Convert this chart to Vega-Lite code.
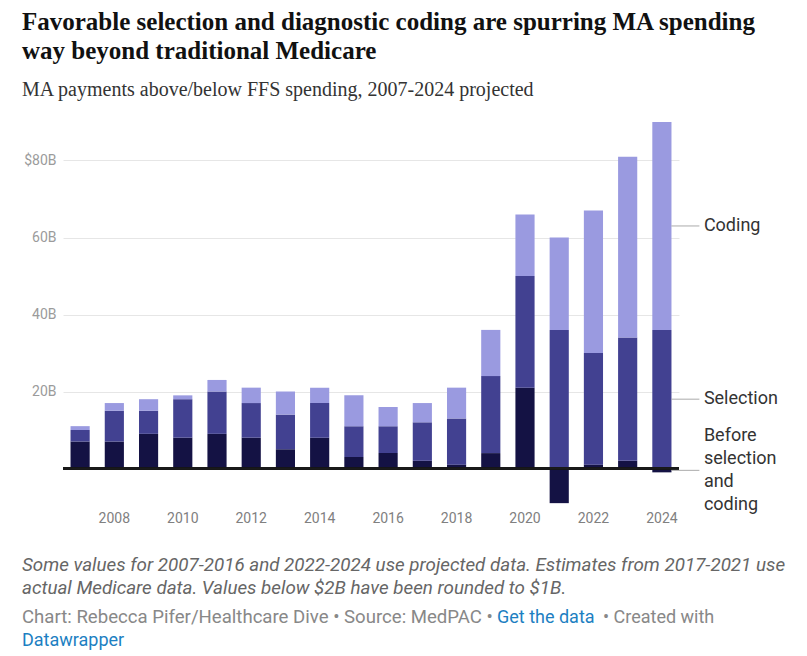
{
  "$schema": "https://vega.github.io/schema/vega-lite/v6.json",
  "width": 616,
  "height": 385,
  "autosize": {"type": "none"},
  "padding": {"left": 63, "top": 122, "right": 128, "bottom": 149},
  "background": "white",
  "title": {
    "text": ["Favorable selection and diagnostic coding are spurring MA spending", "way beyond traditional Medicare"],
    "subtitle": "MA payments above/below FFS spending, 2007-2024 projected",
    "anchor": "start",
    "frame": "group",
    "dx": -41,
    "offset": 22,
    "font": "Liberation Serif",
    "fontSize": 25,
    "fontWeight": "bold",
    "color": "#111111",
    "lineHeight": 29,
    "subtitleFont": "Liberation Serif",
    "subtitleFontSize": 20,
    "subtitleColor": "#333333",
    "subtitlePadding": 16
  },
  "config": {
    "view": {"stroke": null},
    "axis": {"labelFont": "Roboto", "domain": false, "ticks": false, "title": null}
  },
  "datasets": {
    "spending": [
      {"year": 2007, "segment": "Before", "value": 7}, {"year": 2007, "segment": "Selection", "value": 3}, {"year": 2007, "segment": "Coding", "value": 1},
      {"year": 2008, "segment": "Before", "value": 7}, {"year": 2008, "segment": "Selection", "value": 8}, {"year": 2008, "segment": "Coding", "value": 2},
      {"year": 2009, "segment": "Before", "value": 9}, {"year": 2009, "segment": "Selection", "value": 6}, {"year": 2009, "segment": "Coding", "value": 3},
      {"year": 2010, "segment": "Before", "value": 8}, {"year": 2010, "segment": "Selection", "value": 10}, {"year": 2010, "segment": "Coding", "value": 1},
      {"year": 2011, "segment": "Before", "value": 9}, {"year": 2011, "segment": "Selection", "value": 11}, {"year": 2011, "segment": "Coding", "value": 3},
      {"year": 2012, "segment": "Before", "value": 8}, {"year": 2012, "segment": "Selection", "value": 9}, {"year": 2012, "segment": "Coding", "value": 4},
      {"year": 2013, "segment": "Before", "value": 5}, {"year": 2013, "segment": "Selection", "value": 9}, {"year": 2013, "segment": "Coding", "value": 6},
      {"year": 2014, "segment": "Before", "value": 8}, {"year": 2014, "segment": "Selection", "value": 9}, {"year": 2014, "segment": "Coding", "value": 4},
      {"year": 2015, "segment": "Before", "value": 3}, {"year": 2015, "segment": "Selection", "value": 8}, {"year": 2015, "segment": "Coding", "value": 8},
      {"year": 2016, "segment": "Before", "value": 4}, {"year": 2016, "segment": "Selection", "value": 7}, {"year": 2016, "segment": "Coding", "value": 5},
      {"year": 2017, "segment": "Before", "value": 2}, {"year": 2017, "segment": "Selection", "value": 10}, {"year": 2017, "segment": "Coding", "value": 5},
      {"year": 2018, "segment": "Before", "value": 1}, {"year": 2018, "segment": "Selection", "value": 12}, {"year": 2018, "segment": "Coding", "value": 8},
      {"year": 2019, "segment": "Before", "value": 4}, {"year": 2019, "segment": "Selection", "value": 20}, {"year": 2019, "segment": "Coding", "value": 12},
      {"year": 2020, "segment": "Before", "value": 21}, {"year": 2020, "segment": "Selection", "value": 29}, {"year": 2020, "segment": "Coding", "value": 16},
      {"year": 2021, "segment": "Before", "value": -9}, {"year": 2021, "segment": "Selection", "value": 36}, {"year": 2021, "segment": "Coding", "value": 24},
      {"year": 2022, "segment": "Before", "value": 1}, {"year": 2022, "segment": "Selection", "value": 29}, {"year": 2022, "segment": "Coding", "value": 37},
      {"year": 2023, "segment": "Before", "value": 2}, {"year": 2023, "segment": "Selection", "value": 32}, {"year": 2023, "segment": "Coding", "value": 47},
      {"year": 2024, "segment": "Before", "value": -1}, {"year": 2024, "segment": "Selection", "value": 36}, {"year": 2024, "segment": "Coding", "value": 54}
    ],
    "segments": [
      {"segment": "Before", "rank": 1, "label": "Before\nselection\nand\ncoding"},
      {"segment": "Selection", "rank": 2, "label": "Selection"},
      {"segment": "Coding", "rank": 3, "label": "Coding"}
    ]
  },
  "data": {"name": "spending"},
  "transform": [
    {"lookup": "segment", "from": {"data": {"name": "segments"}, "key": "segment", "fields": ["rank", "label"]}}
  ],
  "layer": [
    {
      "mark": {"type": "bar"},
      "encoding": {
        "x": {
          "field": "year", "type": "ordinal",
          "scale": {"paddingInner": 0.44, "paddingOuter": 0.22},
          "axis": {"values": [2008, 2010, 2012, 2014, 2016, 2018, 2020, 2022, 2024], "labelAngle": 0, "labelColor": "#808080", "labelFontSize": 14, "labelPadding": 4, "grid": false}
        },
        "y": {
          "field": "value", "type": "quantitative",
          "scale": {"domain": [-10, 90], "nice": false, "zero": false},
          "axis": {"values": [20, 40, 60, 80], "labelExpr": "datum.value == 80 ? '$80B' : datum.value + 'B'", "labelColor": "#9b9b9b", "labelFontSize": 14, "labelPadding": 7, "grid": true, "gridColor": "#e6e6e6"}
        },
        "color": {
          "field": "segment", "type": "nominal",
          "scale": {"domain": ["Before", "Selection", "Coding"], "range": ["#141244", "#424191", "#9a9ae0"]},
          "legend": null
        },
        "order": {"field": "rank", "type": "quantitative"}
      }
    },
    {
      "mark": {"type": "rule", "color": "#1a1a1a", "strokeWidth": 1.3},
      "encoding": {"y": {"datum": 0}}
    },
    {
      "transform": [
        {"stack": "value", "groupby": ["year"], "sort": [{"field": "rank", "order": "ascending"}], "as": ["lo", "hi"]},
        {"filter": "datum.year == 2024"},
        {"fold": ["lo", "hi"], "as": ["edge", "pos"]},
        {"aggregate": [{"op": "mean", "field": "pos", "as": "mid"}], "groupby": ["year", "segment", "rank", "label"]}
      ],
      "layer": [
        {
          "mark": {"type": "tick", "orient": "horizontal", "size": 28, "thickness": 1.2, "color": "#9a9a9a", "xOffset": 23.5},
          "encoding": {
            "x": {"field": "year", "type": "ordinal"},
            "y": {"field": "mid", "type": "quantitative"}
          }
        },
        {
          "transform": [{"filter": "datum.rank > 1"}],
          "mark": {"type": "text", "align": "left", "baseline": "middle", "dx": 42, "font": "Roboto", "fontSize": 18, "color": "#333333"},
          "encoding": {
            "x": {"field": "year", "type": "ordinal"},
            "y": {"field": "mid", "type": "quantitative"},
            "text": {"field": "label"}
          }
        },
        {
          "transform": [{"filter": "datum.rank == 1"}],
          "mark": {"type": "text", "align": "left", "baseline": "middle", "dx": 42, "dy": -34.5, "font": "Roboto", "fontSize": 18, "color": "#333333", "lineBreak": "\n", "lineHeight": 23},
          "encoding": {
            "x": {"field": "year", "type": "ordinal"},
            "y": {"field": "mid", "type": "quantitative"},
            "text": {"field": "label"}
          }
        }
      ]
    },
    {
      "data": {"values": [{"line": 1}]},
      "mark": {"type": "text", "text": ["Some values for 2007-2016 and 2022-2024 use projected data. Estimates from 2017-2021 use", "actual Medicare data. Values below $2B have been rounded to $1B."], "x": -41, "y": 449, "align": "left", "baseline": "alphabetic", "font": "Roboto", "fontStyle": "italic", "fontSize": 18.8, "lineHeight": 23, "color": "#666666"},
      "encoding": {}
    },
    {
      "data": {"values": [{"line": 1}]},
      "mark": {"type": "text", "text": "Chart: Rebecca Pifer/Healthcare Dive • Source: MedPAC •", "x": -41, "y": 501, "align": "left", "baseline": "alphabetic", "font": "Roboto", "fontSize": 18.6, "color": "#888888"},
      "encoding": {}
    },
    {
      "data": {"values": [{"line": 1}]},
      "mark": {"type": "text", "text": "Get the data", "x": 434, "y": 501, "align": "left", "baseline": "alphabetic", "font": "Roboto", "fontSize": 18, "color": "#1d7fc2"},
      "encoding": {}
    },
    {
      "data": {"values": [{"line": 1}]},
      "mark": {"type": "text", "text": "• Created with", "x": 540, "y": 501, "align": "left", "baseline": "alphabetic", "font": "Roboto", "fontSize": 18, "color": "#888888"},
      "encoding": {}
    },
    {
      "data": {"values": [{"line": 1}]},
      "mark": {"type": "text", "text": "Datawrapper", "x": -41, "y": 524, "align": "left", "baseline": "alphabetic", "font": "Roboto", "fontSize": 18, "color": "#1d7fc2"},
      "encoding": {}
    }
  ]
}
